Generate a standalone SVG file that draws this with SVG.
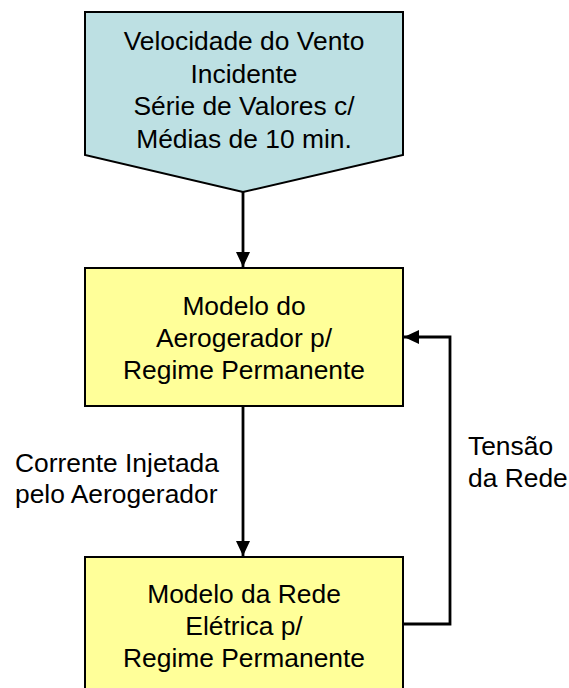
<svg xmlns="http://www.w3.org/2000/svg" width="569" height="688" viewBox="0 0 569 688">
<style>
text{font-family:"Liberation Sans",Arial,sans-serif;font-size:26.4px;fill:#000}
.c{text-anchor:middle}
.box{stroke:#000;stroke-width:2}
.ln{fill:none;stroke:#000;stroke-width:2.8}
</style>
<defs>
<marker id="ah" viewBox="0 0 15 14" refX="15" refY="7" markerWidth="15" markerHeight="14" markerUnits="userSpaceOnUse" orient="auto">
<path d="M0,0 L15,7 L0,14 Z" fill="#000"/>
</marker>
</defs>
<rect width="569" height="688" fill="#fff"/>
<g id="n1">
<path class="box" d="M85,12 H403 V155 L243,192 L85,155 Z" fill="#BDE0E3"/>
<text class="c" x="244" y="50">Velocidade do Vento</text>
<text class="c" x="244" y="82.5">Incidente</text>
<text class="c" x="244" y="115">Série de Valores c/</text>
<text class="c" x="244" y="147.5">Médias de 10 min.</text>
</g>
<g id="n2">
<rect class="box" x="85" y="268" width="318" height="138" fill="#FFFF99"/>
<text class="c" x="244" y="315">Modelo do</text>
<text class="c" x="244" y="347">Aerogerador p/</text>
<text class="c" x="244" y="379">Regime Permanente</text>
</g>
<g id="n3">
<rect class="box" x="85" y="557" width="318" height="140" fill="#FFFF99"/>
<text class="c" x="244" y="603">Modelo da Rede</text>
<text class="c" x="244" y="635">Elétrica p/</text>
<text class="c" x="244" y="667">Regime Permanente</text>
</g>
<g id="connectors">
<line class="ln" x1="243" y1="192" x2="243" y2="267" marker-end="url(#ah)"/>
<line class="ln" x1="243" y1="406" x2="243" y2="556" marker-end="url(#ah)"/>
<path class="ln" d="M403,624 H450 V337 H404" marker-end="url(#ah)"/>
</g>
<g id="labels">
<text x="15" y="472">Corrente Injetada</text>
<text x="15" y="503">pelo Aerogerador</text>
<text x="468" y="455">Tensão</text>
<text x="468" y="487">da Rede</text>
</g>
</svg>
